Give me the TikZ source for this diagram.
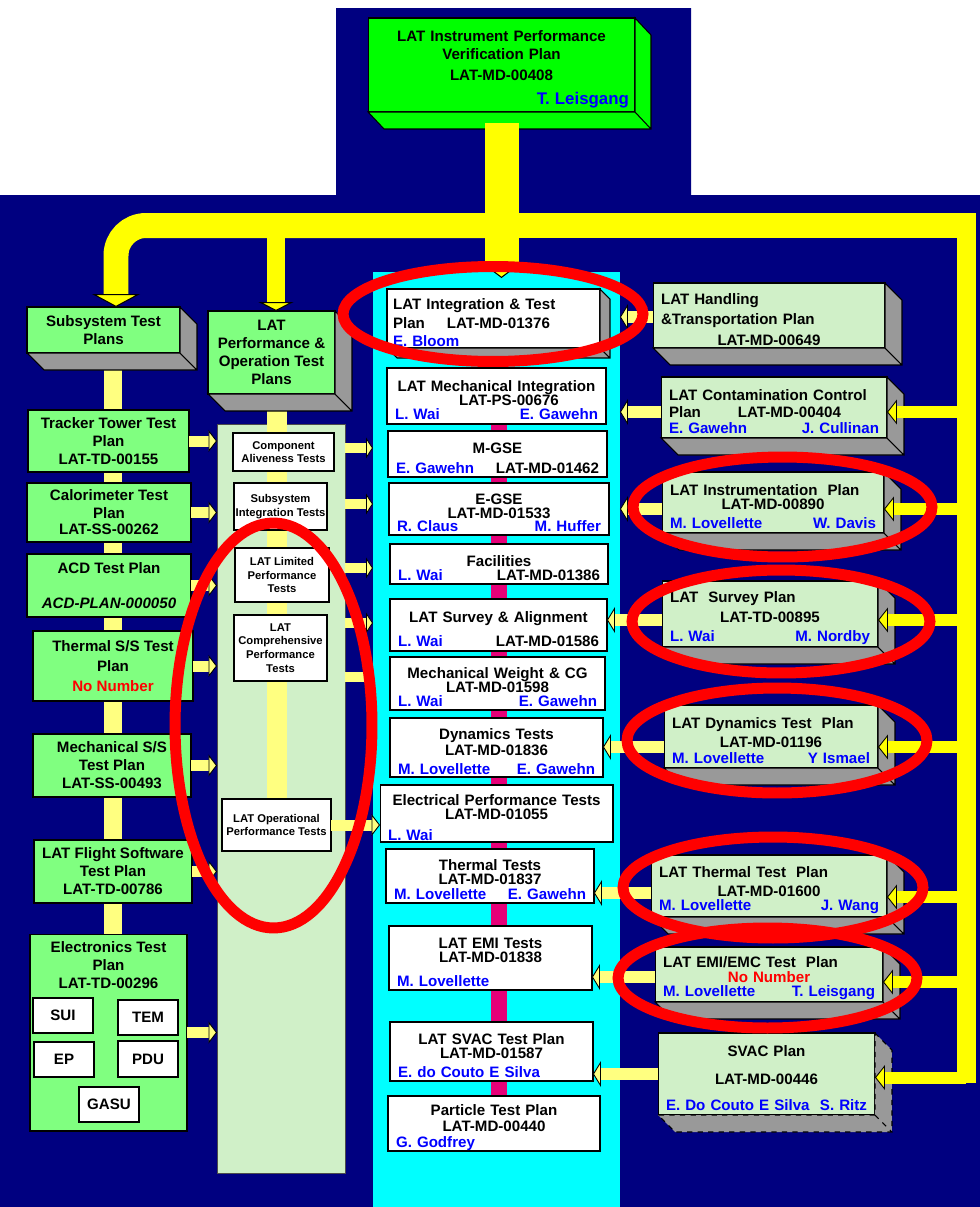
\documentclass[tikz,border=0pt]{standalone}
\usepackage{fontspec}
\setmainfont{Liberation Sans}
\usepackage{xcolor}
\usetikzlibrary{arrows.meta}
\usetikzlibrary{positioning}

\definecolor{navy}{RGB}{0,0,128}
\definecolor{bgreen}{RGB}{0,255,0}
\definecolor{lgreen}{RGB}{128,255,128}
\definecolor{pgreen}{RGB}{208,240,200}
\definecolor{sidegray}{RGB}{153,153,153}
\definecolor{lyellow}{RGB}{255,255,128}
\definecolor{pyellow}{RGB}{255,255,0}
\definecolor{spinepink}{RGB}{230,0,120}
\definecolor{planblue}{RGB}{0,0,255}
\definecolor{aqua}{RGB}{0,255,255}

\newcommand\pers[1]{\textcolor{planblue}{#1}}
\newcommand\nonum[1]{\textcolor{red}{#1}}

\pgfdeclarelayer{bg}
\pgfdeclarelayer{back}
\pgfsetlayers{bg,back,main}

\begin{document}
\begin{tikzpicture}[x=0.02cm, y=-0.02cm, line join=miter]
\tikzstyle{every node} = [inner sep=0pt, outer sep=0pt]
\tikzstyle{tbox} = [draw=black, fill=bgreen, line width=0.6pt, align=center, font=\fontsize{8.6}{10.2}\selectfont\bfseries, execute at begin node={\rule{0pt}{11pt}}]
\tikzstyle{tside} = [draw=black, fill=bgreen, line width=0.6pt]
\tikzstyle{side} = [draw=black, fill=sidegray, line width=0.6pt]
\tikzstyle{lbox} = [draw=black, fill=lgreen, line width=0.6pt, align=center, font=\fontsize{8.6}{10.2}\selectfont\bfseries]
\tikzstyle{sbox} = [draw=black, fill=white, line width=0.6pt, align=center, font=\fontsize{6.4}{7.8}\selectfont\bfseries]
\tikzstyle{ebox} = [draw=black, fill=white, line width=0.6pt, font=\fontsize{8.6}{10}\selectfont\bfseries]
\tikzstyle{cbox} = [draw=black, fill=white, line width=0.6pt, align=center, inner xsep=0.16cm, font=\fontsize{8.6}{8}\selectfont\bfseries, execute at begin node={\rule{0pt}{10.8pt}}]
\tikzstyle{rbox} = [draw=black, fill=pgreen, line width=0.6pt, align=left, inner xsep=0.16cm, font=\fontsize{8.6}{8}\selectfont\bfseries, execute at begin node={\rule{0pt}{10.8pt}}]
\tikzstyle{cyanpanel} = [fill=aqua]
\tikzstyle{panel} = [draw=black!70, fill=pgreen, line width=0.5pt]
\tikzstyle{pipe} = [draw=pyellow, line width=0.5cm]
\tikzstyle{link} = [draw=lyellow, line width=0.38cm]
\tikzstyle{spine} = [draw=spinepink, line width=0.32cm]
\tikzstyle{fat} = [draw=lyellow, line width=0.22cm, -{Triangle[length=0.17cm, width=0.44cm, color=black, fill=lyellow, line width=0.5pt]}]
\tikzstyle{fatm} = [draw=lyellow, line width=0.2cm, -{Triangle[length=0.14cm, width=0.42cm, color=black, fill=lyellow, line width=0.5pt]}]
\tikzstyle{fatr} = [draw=lyellow, line width=0.24cm, -{Triangle[length=0.16cm, width=0.52cm, color=black, fill=lyellow, line width=0.5pt]}]
\tikzstyle{feed} = [draw=pyellow, line width=0.24cm, -{Triangle[length=0.2cm, width=0.5cm, color=black, fill=pyellow, line width=0.5pt]}]
\tikzstyle{hilite} = [draw=red, line width=0.22cm]

\useasboundingbox (0,0) rectangle (980,1207);

\begin{pgfonlayer}{bg}
\fill[white] (0,0) rectangle (980,1207);
\fill[navy] (0,195) -- (336,195) -- (336,8) -- (691,8) -- (691,195) -- (980,195) -- (980,1207) -- (0,1207) -- cycle;
\node[cyanpanel, minimum width=4.94cm, minimum height=18.7cm] (cyan) at (496.5,739.5) {};
\node[panel, minimum width=2.56cm, minimum height=14.98cm] (tests) at (281,798.5) {};
\end{pgfonlayer}

% top plan
\node[tbox, minimum width=5.34cm, minimum height=1.88cm, text width=5.1cm] (top) at (501.5,65)
  {LAT Instrument Performance\\Verification Plan\\[2pt]LAT-MD-00408\\[3pt]\mbox{}\hfill\pers{\fontsize{9.6}{10}\selectfont T. Leisgang}};
\filldraw[tside] (top.north east) -- ++(16,17) -- ([shift={(16,17)}]top.south east) -- ([shift={(16,17)}]top.south west) -- (top.south west) -- (top.south east) -- cycle (top.south east) -- ++(16,17);

% left column
\node[lbox, minimum width=3.06cm, minimum height=0.92cm] (sub) at (103.5,330) {Subsystem Test\\Plans};
\node[lbox, minimum width=2.54cm, minimum height=1.66cm] (perf) at (271.5,352.5) {LAT\\Performance \&\\Operation Test\\Plans};
\node[lbox, minimum width=3.22cm, minimum height=1.24cm] (trk) at (108.5,441) {Tracker Tower Test\\Plan\\LAT-TD-00155};
\node[lbox, minimum width=3.28cm, minimum height=1.18cm] (cal) at (109,512.5) {Calorimeter Test\\Plan\\[-1pt]LAT-SS-00262};
\node[lbox, minimum width=3.28cm, minimum height=1.26cm] (acd) at (109,585.5) {ACD Test Plan\\[9.6pt]\textit{ACD-PLAN-000050}};
\node[lbox, minimum width=3.2cm, minimum height=1.4cm] (ths) at (113,666) {Thermal S/S Test\\[1pt]Plan\\[1pt]\nonum{No Number}};
\node[lbox, minimum width=3.16cm, minimum height=1.26cm] (mss) at (112,765.5) {Mechanical S/S\\Test Plan\\LAT-SS-00493};
\node[lbox, minimum width=3.16cm, minimum height=1.26cm] (fsw) at (113,871.5) {LAT Flight Software\\Test Plan\\LAT-TD-00786};
\node[lbox, minimum width=3.14cm, minimum height=3.94cm,
  label={[align=center, font=\fontsize{8.6}{10.2}\selectfont\bfseries, anchor=north, yshift=-0.16cm]north:{Electronics Test\\Plan\\LAT-TD-00296}}] (elec) at (108.5,1032.5) {};
\node[ebox, minimum width=1.2cm, minimum height=0.7cm] (sui) at (63,1015.5) {SUI};
\node[ebox, minimum width=1.2cm, minimum height=0.7cm] (tem) at (148,1017.5) {TEM};
\node[ebox, minimum width=1.2cm, minimum height=0.7cm] (ep) at (64,1059.5) {EP};
\node[ebox, minimum width=1.2cm, minimum height=0.72cm] (pdu) at (148,1059) {PDU};
\node[ebox, minimum width=1.2cm, minimum height=0.7cm] (gasu) at (109,1104.5) {GASU};

% performance tests panel
\node[sbox, minimum width=2.02cm, minimum height=0.76cm] (comp) at (283.5,452) {Component\\Aliveness Tests};
\node[sbox, minimum width=1.86cm, minimum height=0.94cm] (ssi) at (280.5,506.5) {Subsystem\\Integration Tests};
\node[sbox, minimum width=1.88cm, minimum height=1.08cm] (lim) at (282,575) {LAT Limited\\Performance\\Tests};
\node[sbox, minimum width=1.86cm, minimum height=1.32cm] (cph) at (280.5,648) {LAT\\Comprehensive\\Performance\\Tests};
\node[sbox, minimum width=2.18cm, minimum height=1.04cm] (opt) at (276.5,825) {LAT Operational\\Performance Tests};

% integration and test column
\node[cbox, align=left, inner xsep=0.12cm, minimum width=4.26cm, minimum height=1.18cm, text width=4.02cm] (integ) at (493.5,318.5)
  {LAT Integration \& Test\\[1.6pt]Plan\hspace{0.44cm}LAT-MD-01376\\[2pt]\pers{E. Bloom}};
\node[cbox, minimum width=4.38cm, minimum height=1.12cm, text width=4.06cm] (mech) at (496.5,396)
  {LAT Mechanical Integration\\\hspace*{0.5cm}LAT-PS-00676\\\pers{L. Wai}\hfill\pers{E. Gawehn}};
\node[cbox, minimum width=4.38cm, minimum height=0.92cm, text width=4.06cm] (mgse) at (497.5,454)
  {M-GSE\\[3.3pt]\pers{E. Gawehn}\hfill LAT-MD-01462\hspace*{0.16cm}};
\node[cbox, minimum width=4.4cm, minimum height=1.04cm, text width=4.08cm] (egse) at (499,509)
  {E-GSE\\LAT-MD-01533\\[-0.6pt]\pers{R. Claus}\hfill\pers{M. Huffer}};
\node[cbox, minimum width=4.36cm, minimum height=0.8cm, text width=4.04cm] (fac) at (499,564)
  {Facilities\\\pers{L. Wai}\hfill LAT-MD-01386};
\node[cbox, minimum width=4.34cm, minimum height=1.04cm, text width=4.02cm] (sva) at (498.5,625)
  {LAT Survey \& Alignment\\[4.2pt]\pers{L. Wai}\hfill LAT-MD-01586};
\node[cbox, minimum width=4.3cm, minimum height=1.06cm, text width=3.98cm] (mwc) at (497.5,683.5)
  {Mechanical Weight \& CG\\LAT-MD-01598\\\pers{L. Wai}\hfill\pers{E. Gawehn}};
\node[cbox, minimum width=4.26cm, minimum height=1.18cm, text width=3.94cm] (dyn) at (496.5,747.5)
  {Dynamics Tests\\[1pt]LAT-MD-01836\\[2.8pt]\pers{M. Lovellette}\hfill\pers{E. Gawehn}};
\node[cbox, minimum width=4.66cm, minimum height=1.14cm, text width=4.34cm] (ept) at (496.5,813.5)
  {Electrical Performance Tests\\LAT-MD-01055\\[3.5pt]\pers{L. Wai}\hfill\mbox{}};
\node[cbox, minimum width=4.16cm, minimum height=1.08cm, text width=3.84cm] (tht) at (490,876)
  {Thermal Tests\\LAT-MD-01837\\[0.5pt]\pers{M. Lovellette}\hfill\pers{E. Gawehn}};
\node[cbox, minimum width=4.06cm, minimum height=1.28cm, text width=3.74cm] (emi) at (490.5,958)
  {LAT EMI Tests\\LAT-MD-01838\\[6pt]\pers{M. Lovellette}\hfill\mbox{}};
\node[cbox, minimum width=4.06cm, minimum height=1.18cm, text width=3.74cm] (svt) at (491.5,1051.5)
  {LAT SVAC Test Plan\\LAT-MD-01587\\[3pt]\pers{E. do Couto E Silva}\hfill\mbox{}};
\node[cbox, minimum width=4.24cm, minimum height=1.1cm, text width=3.92cm] (ptp) at (494,1123.5)
  {Particle Test Plan\\[1pt]LAT-MD-00440\\[1pt]\pers{G. Godfrey}\hfill\mbox{}};

% plans feeding the integration and test plan
\node[rbox, minimum width=4.64cm, minimum height=1.3cm, text width=4.32cm] (handl) at (769,315.5)
  {LAT Handling\\[2.2pt]\&Transportation Plan\\[3.9pt]\mbox{}\hfill LAT-MD-00649\hfill\mbox{}};
\node[rbox, minimum width=4.52cm, minimum height=1.22cm, text width=4.2cm] (cont) at (774,407.5)
  {LAT Contamination Control\\[2pt]Plan\hspace{0.74cm}LAT-MD-00404\\[1pt]\pers{E. Gawehn}\hfill\pers{J. Cullinan}};
\node[rbox, minimum width=4.44cm, minimum height=1.22cm, text width=4.12cm] (inst) at (773,502.5)
  {LAT Instrumentation\ \ Plan\\\mbox{}\hfill LAT-MD-00890\hfill\mbox{}\\[3pt]\pers{M. Lovellette}\hfill\pers{W. Davis}};
\node[rbox, minimum width=4.32cm, minimum height=1.32cm, text width=4cm] (surv) at (770,614)
  {LAT\ \ Survey Plan\\[3.3pt]\mbox{}\hfill LAT-TD-00895\hfill\mbox{}\\[2.8pt]\pers{L. Wai}\hfill\pers{M. Nordby}};
\node[rbox, minimum width=4.28cm, minimum height=1.26cm, text width=3.96cm] (dynp) at (771,736.5)
  {LAT Dynamics Test\ \ Plan\\[3.3pt]\mbox{}\hfill LAT-MD-01196\hfill\mbox{}\\[1pt]\pers{M. Lovellette}\hfill\pers{Y Ismael}};
\node[rbox, minimum width=4.72cm, minimum height=1.24cm, text width=4.4cm] (thp) at (769,886)
  {LAT Thermal Test\ \ Plan\\[2.8pt]\mbox{}\hfill LAT-MD-01600\hfill\mbox{}\\\pers{M. Lovellette}\hfill\pers{J. Wang}};
\node[rbox, minimum width=4.56cm, minimum height=1.1cm, text width=4.24cm] (emc) at (769,974.5)
  {LAT EMI/EMC Test\ \ Plan\\[0pt]\mbox{}\hfill\nonum{No Number}\hfill\mbox{}\\[0.4pt]\pers{M. Lovellette}\hfill\pers{T. Leisgang}};
\node[rbox, minimum width=4.34cm, minimum height=1.64cm, text width=4.02cm] (svp) at (766.5,1074)
  {\mbox{}\hfill SVAC Plan\hfill\mbox{}\\[7.9pt]\mbox{}\hfill LAT-MD-00446\hfill\mbox{}\\[6.7pt]\pers{E. Do Couto E Silva}\hfill\pers{S. Ritz}};

% depth faces
\foreach \b/\sz in {sub/17, perf/17, integ/10, handl/17, cont/17, inst/17, surv/17, dynp/17, thp/17, emc/17}
  \filldraw[side] (\b.north east) -- ++(\sz,\sz) -- ([shift={(\sz,\sz)}]\b.south east) -- ([shift={(\sz,\sz)}]\b.south west) -- (\b.south west) -- (\b.south east) -- cycle (\b.south east) -- ++(\sz,\sz);
\filldraw[side, dashed] (svp.north east) -- ++(17,17) -- ([shift={(17,17)}]svp.south east) -- ([shift={(17,17)}]svp.south west) -- (svp.south west) -- (svp.south east) -- cycle (svp.south east) -- ++(17,17);

% connectors behind the boxes
\coordinate (lcol) at (113,0);
\coordinate (spinex) at (499,0);
\begin{pgfonlayer}{back}
\draw[link] (lcol |- sub.south) -- (lcol |- elec.north);
\draw[link, line width=0.4cm] (opt.north |- perf.south) -- (opt.north);
\draw[spine] (spinex |- integ.south) -- (spinex |- ptp.north);
\end{pgfonlayer}

% distribution pipe
\coordinate (hub) at (top.south |- 0,225.5);
\coordinate (lcorner) at (116,225.5);
\coordinate (pdrop) at (276,225.5);
\coordinate (rbar) at (966,225.5);
\draw[pipe] (hub) -- (rbar);
\draw[pipe, line width=0.38cm] ([yshift=0.25cm]rbar) -- (rbar |- 0,1083);
\draw[pipe, rounded corners=0.6cm, -{Triangle[length=0.26cm, width=0.96cm, color=black, fill=pyellow, line width=0.6pt]}] (hub) -- (lcorner) -- (lcorner |- sub.north);
\draw[pipe, line width=0.36cm, -{Triangle[length=0.18cm, width=0.7cm, color=black, fill=pyellow, line width=0.6pt]}] (pdrop) -- (pdrop |- perf.north);
\draw[pipe, line width=0.68cm, shorten >=0.22cm, -{Triangle[length=0.3cm, width=0.8cm, color=black, fill=pyellow, line width=0.6pt]}] ([yshift=-0.22cm]top.south) -- (top.south |- integ.north);

% arrows
\foreach \b in {trk,cal,acd,ths,mss,fsw,elec}
  \draw[fat] (\b.east) -- (\b.east -| tests.west);
\foreach \y in {448,504,568,623,677}
  \draw[fatm] (tests.east |- 0,\y) -- (cyan.west |- 0,\y);
\draw[fat] (opt.east) -- (opt.east -| ept.west);
\foreach \a/\y in {handl/317, cont/412, inst/509}
  \draw[fatr] (\a.west |- 0,\y) -- (cyan.east |- 0,\y);
\foreach \a/\b/\y in {surv/sva/620, dynp/dyn/747, thp/tht/893, emc/emi/977, svp/svt/1074}
  \draw[fatr] (\a.west |- 0,\y) -- (\b.east |- 0,\y);
\foreach \b/\y in {cont/412, inst/509, surv/620, dynp/747, thp/897, emc/982, svp/1077.5}
  \draw[feed] (rbar |- 0,\y) -- (\b.east |- 0,\y);

% highlighted plans
\draw[hilite] (493,314) ellipse [x radius=3cm, y radius=0.95cm];
\draw[hilite] (782.5,507) ellipse [x radius=2.99cm, y radius=1cm];
\draw[hilite] (781,621.5) ellipse [x radius=2.98cm, y radius=1.03cm];
\draw[hilite] (777,740.5) ellipse [x radius=3cm, y radius=1.05cm];
\draw[hilite] (773,887.5) ellipse [x radius=3cm, y radius=1.01cm];
\draw[hilite] (767.5,978) ellipse [x radius=2.99cm, y radius=1cm];
\draw[hilite] (273.5,725.5) ellipse [x radius=1.97cm, y radius=4.05cm];

\end{tikzpicture}
\end{document}
